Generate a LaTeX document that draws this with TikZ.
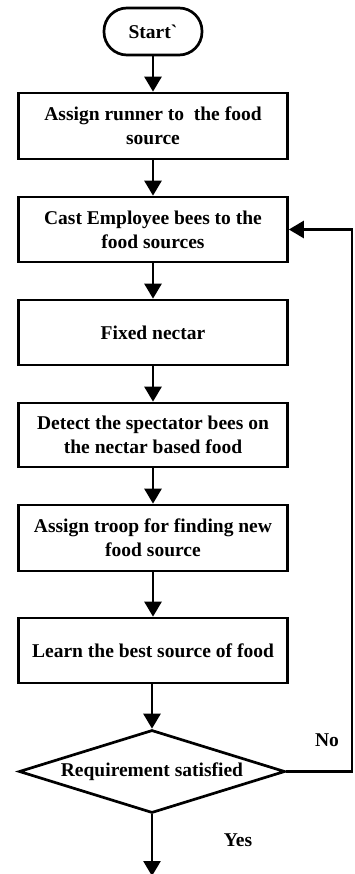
\documentclass[tikz,border=0pt]{standalone}
\usepackage{fontspec}
\setmainfont{Liberation Serif}[Ligatures=TeXOff]
\usetikzlibrary{shapes.geometric,arrows.meta}
\begin{document}
\begin{tikzpicture}[x=1pt,y=-1pt,
  every node/.style={font=\bfseries\fontsize{19.5}{24}\selectfont},
  stepbox/.style={draw,line width=2.7pt,minimum width=269pt,minimum height=65pt,
    align=center,inner sep=0pt},
  term/.style={draw,line width=2.7pt,rounded corners=23pt,minimum width=98pt,
    minimum height=47pt,inner sep=0pt},
  decision/.style={draw,diamond,line width=2.7pt,minimum width=266pt,
    minimum height=83pt,aspect=3.2,inner sep=0pt},
  flow/.style={line width=2.7pt,-{Triangle[length=15pt,width=17pt]}},
  lbl/.style={inner sep=0pt}]
\useasboundingbox (0,0) rectangle (355,874);

\node[term] (start) at (153,31.5) {Start`};
\node[stepbox,minimum height=66pt] (runner) at (153,126) {Assign runner to\ \ the food\\source};
\node[stepbox] (cast) at (153,229.5) {Cast Employee bees to the\\food sources};
\node[stepbox] (nectar) at (153,332.5) {Fixed nectar};
\node[stepbox,minimum height=64pt] (detect) at (153,435) {Detect the spectator bees on\\the nectar based food};
\node[stepbox,minimum height=66pt] (troop) at (153,538) {Assign troop for finding new\\food source};
\node[stepbox] (learn) at (153,650.5) {Learn the best source of food};
\node[decision] (req) at (152,771.5) {Requirement satisfied};

\coordinate (loopA) at (352,771.5);
\coordinate (loopB) at (352,229.5);
\coordinate (out) at (152,876);

\draw[flow] (start) -- (runner);
\draw[flow] (runner) -- (cast);
\draw[flow] (cast) -- (nectar);
\draw[flow] (nectar) -- (detect);
\draw[flow] (detect) -- (troop);
\draw[flow] (troop) -- (learn);
\draw[flow] (learn.south -| req.north) -- (req.north);
\draw[flow] (req.east) -- (loopA) -- (loopB) -- (cast.east);
\draw[flow] (req.south) -- (out);

\node[lbl] (no) at (327,740) {No};
\node[lbl] (yes) at (238,840) {Yes};
\end{tikzpicture}
\end{document}
